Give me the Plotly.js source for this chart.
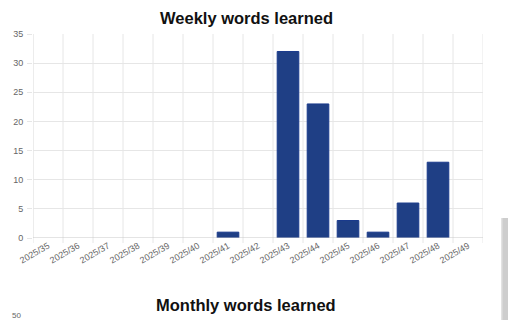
<!DOCTYPE html>
<html>
<head>
<meta charset="utf-8">
<script src="https://cdn.plot.ly/plotly-3.0.1.min.js"></script>
<style>
html,body{margin:0;padding:0;background:#fff;overflow:hidden;}
#chart{width:512px;height:320px;}
</style>
</head>
<body>
<div id="chart"></div>
<script>
const weeks = ["2025/35","2025/36","2025/37","2025/38","2025/39","2025/40","2025/41","2025/42","2025/43","2025/44","2025/45","2025/46","2025/47","2025/48","2025/49"];
const wordsLearned = [0,0,0,0,0,0,1,0,32,23,3,1,6,13,0];
const yTicks = [0,5,10,15,20,25,30,35];
const chartTitle = "Weekly words learned";
const secondTitle = "Monthly words learned";
const secondTopTick = "50";

const W = 512, H = 320;
const m = {l:33, r:29, t:34, b:82};
const ph = H - m.t - m.b;
function py(px){ return 1 - (px - m.t)/ph; }
function px(x){ return (x - m.l)/(W - m.l - m.r); }

const trace = {
  type: 'bar',
  x: weeks,
  y: wordsLearned,
  marker: {color: '#1f3f85', line: {color: '#1a3a8c', width: wordsLearned.map(v => v > 0 ? 1 : 0)}},
  hoverinfo: 'none'
};

const layout = {
  width: W, height: H,
  margin: m,
  paper_bgcolor: '#fff', plot_bgcolor: '#fff',
  bargap: 0.28,
  showlegend: false,
  font: {family: 'Liberation Sans, Arial, sans-serif', color: '#666', size: 9},
  xaxis: {
    type: 'category',
    range: [-0.5, weeks.length - 0.5],
    tickangle: -30,
    tickfont: {size: 9, color: '#666'},
    showgrid: false,
    ticks: '',
    showline: false,
    zeroline: false,
    fixedrange: true
  },
  yaxis: {
    range: [0, 35],
    tickvals: yTicks,
    ticktext: yTicks.map(String),
    tickfont: {size: 9, color: '#666'},
    gridcolor: '#e6e6e6',
    gridwidth: 1,
    ticks: 'outside',
    ticklen: 5,
    tickcolor: '#e6e6e6',
    ticklabelstandoff: 2,
    showline: false,
    zeroline: false,
    fixedrange: true
  },
  shapes: [],
  annotations: [
    {text: '<b>' + chartTitle + '</b>', xref: 'paper', yref: 'paper',
     x: px(246), y: py(18), xanchor: 'center', yanchor: 'middle', showarrow: false,
     font: {size: 16.5, color: '#111', family: 'Liberation Sans, Arial, sans-serif'}},
    {text: '<b>' + secondTitle + '</b>', xref: 'paper', yref: 'paper',
     x: px(246), y: py(305), xanchor: 'center', yanchor: 'middle', showarrow: false,
     font: {size: 16.5, color: '#111', family: 'Liberation Sans, Arial, sans-serif'}},
    {text: secondTopTick, xref: 'paper', yref: 'paper',
     x: px(23), y: py(309), xanchor: 'right', yanchor: 'top', showarrow: false,
     font: {size: 8, color: '#666'}}
  ]
};

// vertical category-boundary grid lines (Chart.js style offset grid)
for (let i = 0; i <= weeks.length; i++) {
  layout.shapes.push({type: 'line', xref: 'x', yref: 'paper', x0: i - 0.5, x1: i - 0.5,
    y0: 0, y1: 1, line: {color: i === 0 ? '#d9d9d9' : '#e6e6e6', width: 1}, layer: 'below'});
  layout.shapes.push({type: 'line', xref: 'x', yref: 'paper', x0: i - 0.5, x1: i - 0.5,
    y0: 0, y1: -5/ph, line: {color: '#e6e6e6', width: 1}, layer: 'below'});
}
// baseline
layout.shapes.push({type: 'line', xref: 'paper', yref: 'y', x0: 0, x1: 1, y0: 0, y1: 0,
  line: {color: '#c8c8c8', width: 1}, layer: 'above'});
// scrollbar
layout.shapes.push({type: 'rect', xref: 'paper', yref: 'paper', x0: px(501), x1: px(508), y0: py(218), y1: py(322),
  fillcolor: '#cdcdcd', line: {width: 0}});
layout.shapes.push({type: 'rect', xref: 'paper', yref: 'paper', x0: px(501), x1: px(502.5), y0: py(218), y1: py(322),
  fillcolor: '#e2e2e2', line: {width: 0}});

Plotly.newPlot('chart', [trace], layout, {displayModeBar: false, staticPlot: true});
</script>
</body>
</html>
